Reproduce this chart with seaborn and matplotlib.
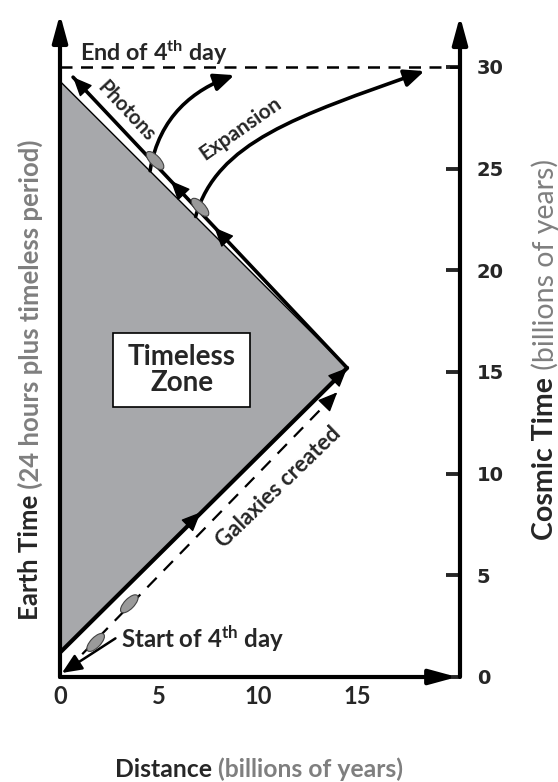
import matplotlib
matplotlib.use("Agg")
import matplotlib.pyplot as plt
import seaborn as sns
from matplotlib.patches import Ellipse, FancyArrowPatch, Rectangle
from matplotlib.path import Path

# timeless zone corners (distance, cosmic time)
zone_x = [0, 14.5, 0]
zone_y = [1.2, 15.2, 29.3]
# photons coming back from the turning point
photon_x = [14.5, 0.66]
photon_y = [15.2, 29.5]
# galaxies created path
galaxy_x = [0.3, 14.0]
galaxy_y = [0.3, 14.0]
early_gal_x = [1.8, 3.5]
early_gal_y = [1.7, 3.6]
late_gal_x = [4.8, 7.07]
late_gal_y = [25.4, 23.1]
# expansion curves (bezier control points)
exp1_x = [4.55, 5.0, 6.8, 8.8]
exp1_y = [24.9, 27.6, 28.9, 29.6]
exp2_x = [6.85, 7.9, 12.0, 18.4]
exp2_y = [22.65, 26.3, 27.6, 29.8]
end_of_day = 30
cosmic_ticks = [0, 5, 10, 15, 20, 25, 30]
distance_ticks = [0, 5, 10, 15]
x_end = 20.2
y_top = 32.6

sns.set_style("white")
plt.rcParams['font.family'] = ['Lato', 'DejaVu Sans']
plt.rcParams['mathtext.fontset'] = 'custom'
plt.rcParams['mathtext.rm'] = 'Lato:bold'
plt.rcParams['mathtext.bf'] = 'Lato:bold'
plt.rcParams['mathtext.it'] = 'Lato:bold'

GRAY = '#7f7f7f'

fig = plt.figure(figsize=(5.58, 7.82), dpi=100)
ax = fig.add_axes([60 / 558, 105 / 782, 400 / 558, 671 / 782])
ax.set_xlim(0, x_end)
ax.set_ylim(0, 33)
for s in ax.spines.values():
    s.set_visible(False)


def head(x, y, dx, dy, hl=0.8, hw=0.35, lw=1):
    ax.annotate('', xy=(x, y), xytext=(x - dx, y - dy),
                arrowprops=dict(arrowstyle=f'-|>,head_length={hl},head_width={hw}',
                                color='black', lw=lw, mutation_scale=15,
                                shrinkA=0, shrinkB=0),
                annotation_clip=False)


# timeless zone
ax.fill(zone_x, zone_y, color='#a7a8ab', ec='black', lw=1.0, zorder=1)
sns.lineplot(x=zone_x[:2], y=zone_y[:2], color='black', lw=3, sort=False, ax=ax)
sns.lineplot(x=photon_x, y=photon_y, color='black', lw=2.6, sort=False, ax=ax)

# galaxies path
sns.lineplot(x=galaxy_x, y=galaxy_y, color='black', lw=1.6, sort=False, ax=ax,
             linestyle=(0, (6, 4.5)))

# end of day
ax.plot([0, x_end], [end_of_day, end_of_day], color='black', lw=1.8,
        linestyle=(0, (4.8, 3.4)), zorder=2)

# arrowheads on the paths
head(7.1, 8.1, 0.3, 0.29)
head(14.5, 15.2, 0.3, 0.29)
head(galaxy_x[1], galaxy_y[1], 0.3, 0.3)
head(7.8, 22.1, -0.3, 0.31)
head(5.6, 24.4, -0.3, 0.31)
head(photon_x[1], photon_y[1], -0.3, 0.31)

# expansion curves
codes = [Path.MOVETO, Path.CURVE4, Path.CURVE4, Path.CURVE4]
for cx, cy in [(exp1_x, exp1_y), (exp2_x, exp2_y)]:
    p = FancyArrowPatch(path=Path(list(zip(cx, cy)), codes),
                        arrowstyle='-|>,head_length=0.8,head_width=0.35',
                        mutation_scale=15, lw=2.6, color='black', zorder=3)
    ax.add_patch(p)

# galaxies
for gx, gy in zip(early_gal_x, early_gal_y):
    ax.add_patch(Ellipse((gx, gy), 1.15, 0.5, angle=45, fc='#9a9a9a', ec='#444444', lw=0.8, zorder=5))
for gx, gy in zip(late_gal_x, late_gal_y):
    ax.add_patch(Ellipse((gx, gy), 1.15, 0.5, angle=-45, fc='#9a9a9a', ec='#444444', lw=0.8, zorder=5))

# start arrow
ax.annotate('', xy=(0.1, 0.2), xytext=(2.8, 1.9),
            arrowprops=dict(arrowstyle='-|>,head_length=0.8,head_width=0.35',
                            color='black', lw=1.8, mutation_scale=15, shrinkA=0, shrinkB=0))

# axes with arrows
axis_arrow = dict(arrowstyle='-|>,head_length=1.1,head_width=0.3', color='black',
                  lw=3, mutation_scale=15, shrinkA=0, shrinkB=0)
ax.annotate('', xy=(0, y_top), xytext=(0, 0), arrowprops=axis_arrow, annotation_clip=False)
ax.annotate('', xy=(x_end, y_top - 0.1), xytext=(x_end, 0), arrowprops=axis_arrow, annotation_clip=False)
ax.annotate('', xy=(x_end - 0.15, 0), xytext=(0, 0), arrowprops=axis_arrow, annotation_clip=False)

# ticks
ax.yaxis.tick_right()
ax.set_yticks(cosmic_ticks)
ax.set_yticklabels([str(t) for t in cosmic_ticks], fontfamily='DejaVu Sans',
                   fontweight='bold', fontsize=14)
ax.set_xticks(distance_ticks)
ax.set_xticklabels([str(t) for t in distance_ticks], fontweight='bold', fontsize=17)
ax.tick_params(axis='y', direction='in', length=10, width=2.8, pad=12, right=True, left=False)
ax.tick_params(axis='x', direction='in', length=10, width=2.8, pad=6)
ax.set_xlabel('')
ax.set_ylabel('')

# annotations
ax.text(1.0, 30.7, 'End of 4$^{\\rm th}$ day', fontsize=16.8, fontweight='bold', va='center')
ax.text(3.33, 27.85, 'Photons', rotation=-47, fontsize=14.5, fontweight='bold',
        ha='center', va='center', rotation_mode='anchor')
ax.text(9.1, 26.95, 'Expansion', rotation=35, fontsize=15, fontweight='bold',
        ha='center', va='center', rotation_mode='anchor')
ax.add_patch(Rectangle((2.68, 13.28), 6.92, 3.64, fc='white', ec='black', lw=1.2, zorder=4))
ax.text(6.14, 15.1, 'Timeless\nZone', ha='center', va='center', fontsize=20, fontweight='bold',
        linespacing=1.0, zorder=5)
ax.text(11.06, 9.35, 'Galaxies created', rotation=44, fontsize=16, fontweight='bold',
        ha='center', va='center', rotation_mode='anchor')
ax.text(3.1, 1.9, 'Start of 4$^{\\rm th}$ day', fontsize=17.3, fontweight='bold', va='center')

# axis titles, two colours each
t1 = fig.text(30 / 558, 162 / 782, 'Earth Time', rotation=90, fontsize=18.5, fontweight='bold',
              ha='center', va='bottom')
ax.annotate(' (24 hours plus timeless period)', xy=(0.5, 1), xycoords=t1, rotation=90,
            ha='center', va='bottom', fontsize=18.5, fontweight='bold', color=GRAY)

t2 = fig.text(545 / 558, 242 / 782, 'Cosmic Time', rotation=90, fontsize=20.5, fontweight='bold',
              ha='center', va='bottom')
ax.annotate(' (billions of years)', xy=(0.5, 1), xycoords=t2, rotation=90, ha='center',
            va='bottom', fontsize=20.5, color=GRAY)

t3 = fig.text(115 / 558, 5 / 782, 'Distance', fontsize=17.8, fontweight='bold',
              ha='left', va='baseline')
ax.annotate(' (billions of years)', xy=(1, 0), xycoords=t3, ha='left', va='bottom',
            fontsize=17.8, fontweight='bold', color=GRAY)

fig.savefig('out.png', dpi=100)
